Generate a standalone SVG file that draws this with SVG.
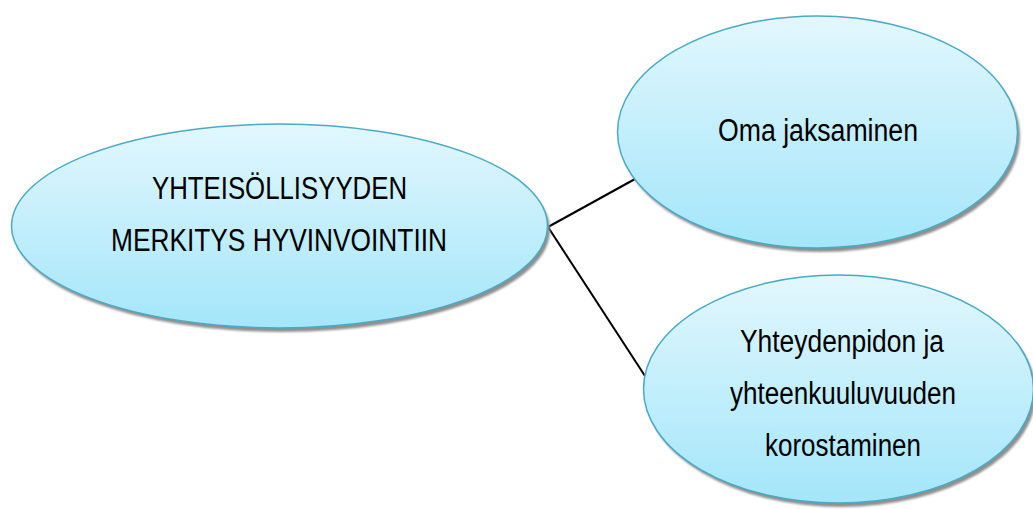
<svg xmlns="http://www.w3.org/2000/svg" width="1033" height="509" viewBox="0 0 1033 509">
<defs>
<linearGradient id="g" x1="0" y1="0" x2="0" y2="1">
<stop offset="0" stop-color="#e2f7fd"/>
<stop offset="1" stop-color="#a3e6fa"/>
</linearGradient>
<filter id="sh" x="-10%" y="-10%" width="120%" height="130%">
<feGaussianBlur stdDeviation="1"/>
</filter>
</defs>
<style>
.shadow{fill:#8f8f8f;filter:url(#sh)}
.node{fill:url(#g);stroke:#4aaac6;stroke-width:1.5}
.t{font-family:"Liberation Sans Narrow","Liberation Sans",Arial,sans-serif;font-size:31px;fill:#000;text-anchor:start}
.c{stroke:#000;stroke-width:2;fill:none}
</style>
<rect width="1033" height="509" fill="#fff"/>
<g id="connectors">
<line class="c" x1="548" y1="227" x2="635" y2="179"/>
<line class="c" x1="548" y1="227" x2="645" y2="376"/>
</g>
<g id="main">
<ellipse class="shadow" cx="282" cy="230" rx="268" ry="102"/>
<ellipse class="node" cx="279.5" cy="226" rx="268" ry="102"/>
<text class="t" x="152" y="199" textLength="255" lengthAdjust="spacingAndGlyphs">YHTEISÖLLISYYDEN</text>
<text class="t" x="111" y="251" textLength="336" lengthAdjust="spacingAndGlyphs">MERKITYS HYVINVOINTIIN</text>
</g>
<g id="oma">
<ellipse class="shadow" cx="820" cy="136" rx="200" ry="116"/>
<ellipse class="node" cx="817.5" cy="132" rx="200" ry="116"/>
<text class="t" x="718" y="141" textLength="200" lengthAdjust="spacingAndGlyphs">Oma jaksaminen</text>
</g>
<g id="yhteys">
<ellipse class="shadow" cx="841" cy="393" rx="195" ry="114"/>
<ellipse class="node" cx="838.5" cy="389" rx="195" ry="114"/>
<text class="t" x="740" y="352" textLength="204" lengthAdjust="spacingAndGlyphs">Yhteydenpidon ja</text>
<text class="t" x="730" y="404" textLength="226" lengthAdjust="spacingAndGlyphs">yhteenkuuluvuuden</text>
<text class="t" x="765" y="456" textLength="156" lengthAdjust="spacingAndGlyphs">korostaminen</text>
</g>
</svg>
